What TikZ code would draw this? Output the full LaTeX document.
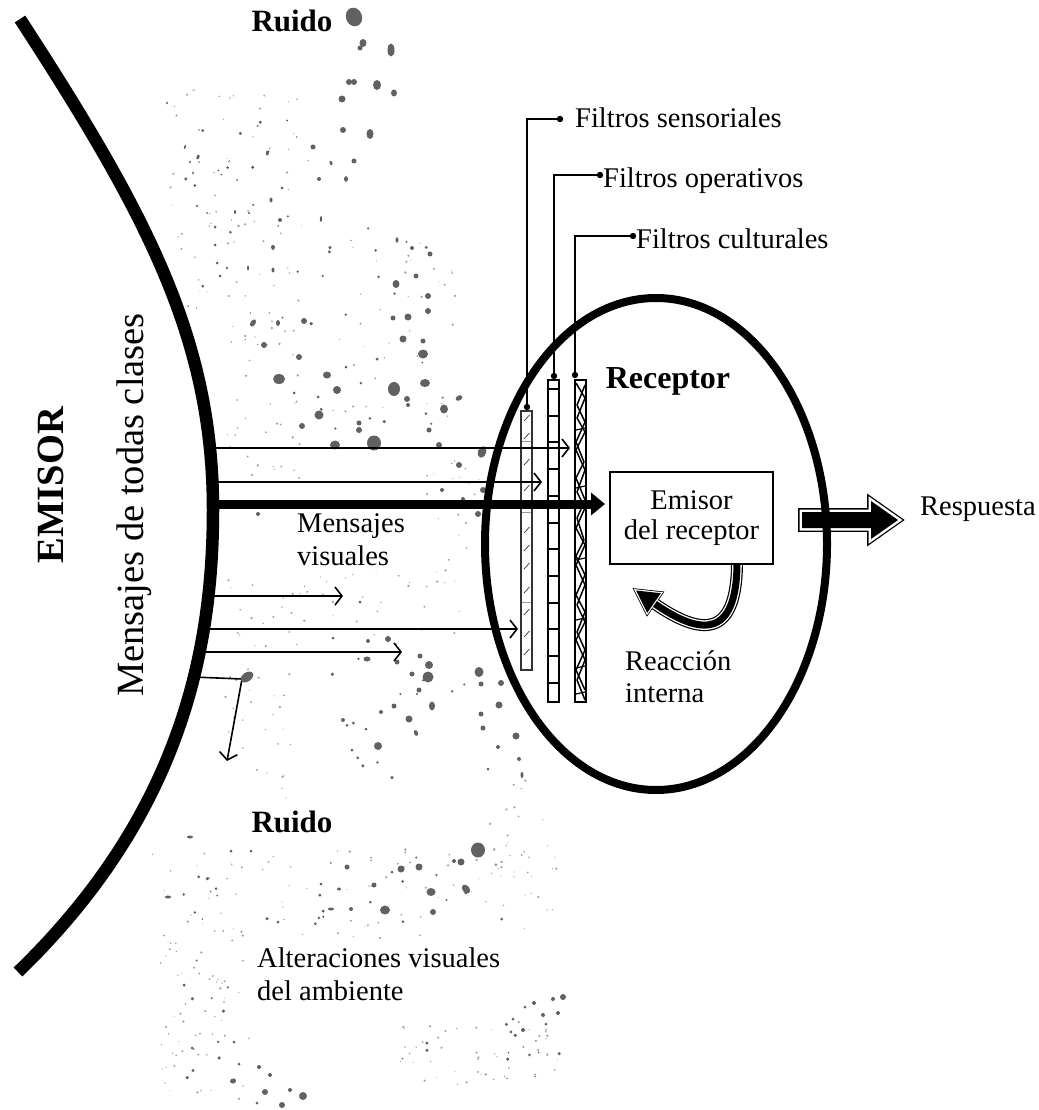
\documentclass[tikz,border=0pt]{standalone}
\usepackage{fontspec}
\setmainfont{Liberation Serif}
\usetikzlibrary{arrows.meta}
\begin{document}
\begin{tikzpicture}[x=1pt,y=-1pt,
  txt/.style={inner sep=0pt, font=\fontsize{28.5}{30}\selectfont},
  bigtxt/.style={inner sep=0pt, font=\fontsize{38.5}{40}\selectfont},
  boldtxt/.style={inner sep=0pt, font=\fontsize{31}{33}\selectfont\bfseries},
  noise/.style={fill=black!62},
  speck/.style={fill=black!38},
  emarc/.style={line width=12.5pt, line cap=butt},
  thinarrow/.style={line width=1.6pt, -{Straight Barb[length=7pt,width=18pt]}},
  mainarrow/.style={line width=9pt, -{Triangle[length=14pt,width=22pt]}},
  lead/.style={line width=2.8pt},
  leaddot/.style={fill=black},
  filterbox/.style={line width=2pt, fill=white},
]
\useasboundingbox (0,0) rectangle (1038,1110);

% ---------------- fine speckles (noise texture) ----------------
\pgfmathsetseed{4242}
\foreach \xa/\xb/\ya/\yb/\n in {170/310/90/330/70, 225/300/330/480/35, 225/300/570/800/45,
    300/460/570/640/30, 330/460/230/420/40, 150/560/845/940/80, 160/250/930/1100/60,
    400/560/1020/1085/50, 490/545/780/880/25, 420/480/460/560/20} {
  \foreach \i in {1,...,\n} {
    \pgfmathsetmacro\px{\xa+(\xb-\xa)*rnd}
    \pgfmathsetmacro\py{\ya+(\yb-\ya)*rnd}
    \pgfmathsetmacro\pr{0.5+0.8*rnd}
    \fill[speck] (\px,\py) circle[radius=\pr];
  }
}
\foreach \xa/\xb/\ya/\yb/\n in {180/300/120/320/18, 300/440/220/430/22, 330/470/640/780/14,
    170/540/850/930/22, 180/250/960/1100/12, 420/560/1000/1060/10} {
  \foreach \i in {1,...,\n} {
    \pgfmathsetmacro\px{\xa+(\xb-\xa)*rnd}
    \pgfmathsetmacro\py{\ya+(\yb-\ya)*rnd}
    \pgfmathsetmacro\pr{0.9+0.9*rnd}
    \fill[noise] (\px,\py) circle[radius=\pr];
  }
}

% ---------------- noise blobs ----------------
\foreach \x/\y/\a/\b/\r in {
  354/17/8/9.5/20, 363/43/3.5/4/0, 360/48/2.5/2.5/0, 391/50/3.5/6.5/0,
  349/82/3/3/0, 354/82/3/3/0, 377/85/4/5/0, 394/93/3/3.5/0, 342/99/3.5/3.5/0,
  343/130/3/3/0, 370/134/3.5/5/0, 313/147/2.5/2.5/0, 268/153/1/2.8/-20,
  354/161/2.5/2.5/0, 331/163/1.5/2.2/20, 346/179/2/2.8/0, 319/179/2/2/0,
  280/220/2/2/0, 321/219/1.2/2.8/0, 397/240/1.5/2.8/0, 412/248/2/2/0,
  430/254/2.5/2.5/0, 273/247/2/2/0, 416/276/2.5/2.5/0, 396/284/3.5/4/0,
  428/296/3/3/0, 408/317/3.5/3.5/0, 393/318/2.5/2.5/0, 428/311/3/3/0,
  304/321/3/3/0, 253/323/2.5/4/-35, 278/323/2/3/0, 264/345/3/3/0, 299/357/3/3/0,
  403/339/3.5/3.5/0, 423/341/2.5/2.5/0, 423/354/5/4.5/0, 279/379/6/5/0,
  327/375/4/3.5/0, 337/390/4/4/0, 394/389/6/7/0, 425/383/5/4/0, 407/399/3/3/0,
  408/405/2/2/0, 459/398/3.5/2.5/30, 444/409/4/4.5/0, 319/415/4.5/4.5/0,
  302/426/3/3/0, 359/423/2.5/2.5/0, 359/430/3/3/0, 429/430/2.5/2.5/0,
  335/445/5/4.5/0, 374/443/7/7.5/0, 439/445/3/3/0, 318/397/1.5/1.5/0,
  294/393/1.5/1.5/0, 482/452/4/6/-20, 459/465/3/3/0, 442/490/2/2/0,
  483/490/3/3/0, 463/499/2/2/0, 258/514/2/2/0, 478/514/3/3/0,
  360/602/1.5/1.5/0, 333/638/1.5/1.5/0, 368/641/2/2/0, 388/639/3/3/0,
  420/656/2.5/2.5/0, 367/659/3.5/2.5/0, 429/665/4/4/0, 479/672/4.5/5/0,
  397/662/2.5/2.5/0, 428/677/5.5/5.5/0, 412/674/2.5/2.5/0,
  419/690/2.5/2.5/0, 432/706/3/4.5/0, 394/706/2.5/2.5/0, 381/712/2/2/0,
  409/719/3.5/3.5/0, 343/720/2/2/0, 366/729/1.5/1.5/0, 416/733/2/3/20,
  378/746/4/4/0, 352/750/1.5/1.5/0, 481/684/2.5/2.5/0, 501/683/3/3/0,
  499/705/3.5/3.5/0, 481/714/2.5/2.5/0, 483/728/2.5/2.5/0, 516/736/3.5/3.5/0,
  498/747/2/2/0, 519/759/2/2/0, 488/769/1.5/1.5/0, 522/775/1.5/3/0,
  478/850/7/7.5/0, 461/862/3.5/3.5/0, 454/861/2/2/0, 419/867/3.5/3.5/0,
  401/869/3.5/3.5/0, 392/872/1.5/1.5/0, 347/867/2.5/2.5/0, 431/892/4.5/4/0,
  466/889/3.5/5/40, 374/885/2.5/2.5/0, 339/889/2/1.5/0, 321/884/1.5/1.5/0,
  385/910/5/4.5/0, 433/912/3/3/0, 351/909/2/2/0, 331/909/3/1.5/0,
  278/922/1.5/1.5/0, 231/851/1.5/1.5/0, 251/851/1.5/1.5/0, 168/897/3/1.5/0,
  190/837/3/1.5/0, 563/997/3/3/0, 558/1013/2/2/0, 543/1015/2/2/0,
  534/1003/2/2/0, 523/1030/2/2/0, 546/1024/1.5/1.5/0, 513/1019/1.5/1.5/0,
  525/1007/1.5/1.5/0, 553/999/2/2/0, 303/1096/4/4/0, 265/1092/3/3/0,
  282/1105/3/3/0, 290/1090/2/2/0, 233/1081/3/2.5/0, 259/1067/2/2/0,
  270/1075/2/2/0, 239/1064/1.5/1.5/0, 257/1103/1.5/1.5/0, 234/1042/1.5/1.5/0,
  198/157/1.5/2.5/-20, 185/147/1/2/-20, 267/153/1/2.5/0, 282/188/1.5/1.5/0,
  271/200/1.5/2.5/0, 235/212/1/2/0, 249/213/1/1.5/0, 215/227/1.5/1.5/0,
  207/213/1/1/0, 237/180/1/1/0, 193/173/1/1.5/0, 273/248/1.5/2/0,
  248/268/1/2.5/0, 273/270/1.5/2.5/0, 220/276/1.5/1.5/0, 167/103/1/1.5/0,
  190/162/1/1.5/0, 215/245/1.5/1.5/0, 217/263/1.5/1.5/0} {
  \fill[noise, rotate around={\r:(\x,\y)}] (\x,\y) ellipse[x radius=\a, y radius=\b];
}

% ---------------- Respuesta arrow (outlined block arrow) ----------------
\draw[line width=7.6pt, line join=miter] (802,512) -- (871,512) -- (871,501) -- (898,520) -- (871,539) -- (871,528) -- (802,528) -- cycle;
\draw[white, line width=5pt, line join=miter] (802,512) -- (871,512) -- (871,501) -- (898,520) -- (871,539) -- (871,528) -- (802,528) -- cycle;
\fill[black] (802,512) -- (871,512) -- (871,501) -- (898,520) -- (871,539) -- (871,528) -- (802,528) -- cycle;

% ---------------- Receptor ellipse ----------------
\node[draw=none, minimum width=342pt, minimum height=492pt, inner sep=0pt] (rec) at (656,544) {};
\draw[line width=8pt] (656,544) ellipse[x radius=171, y radius=246];

% ---------------- Filters ----------------
% filtro sensorial
\node[draw=black!80, line width=1.5pt, fill=white, minimum width=11pt, minimum height=259pt, inner sep=0pt] (f1) at (526.5,540.5) {};
\foreach \yy in {441,512,602} \draw[black!40, line width=1pt] (522,\yy) -- (531,\yy);
\foreach \yy in {418,436,462,488,530,548,566,590,612,634,652}
  \draw[black!70, line width=0.8pt] (524,\yy+3) -- (529.5,\yy-3);
% filtro operativo
\node[draw, filterbox, minimum width=11pt, minimum height=322pt, inner sep=0pt] (f2) at (553.5,541) {};
\foreach \k in {0,...,11} \draw[line width=2pt] (548,389+26.7*\k) -- (559,389+26.7*\k);
% filtro cultural
\node[draw, filterbox, minimum width=11pt, minimum height=322pt, inner sep=0pt] (f3) at (580.5,541) {};
\draw[line width=1.5pt, line join=round] (576,383) -- (585,398) -- (577,418) -- (585,432) -- (576,450) -- (585,470) -- (577,492) -- (585,508) -- (576,528) -- (585,545) -- (576,565) -- (585,585) -- (577,605) -- (585,622) -- (576,640) -- (585,660) -- (577,680) -- (585,700);
\draw[line width=1.5pt, line join=round] (585,385) -- (577,405) -- (585,422) -- (576,442) -- (584,462) -- (576,478) -- (585,500) -- (577,518) -- (584,540) -- (576,556) -- (585,575) -- (576,595) -- (585,612) -- (577,632) -- (585,650) -- (576,670) -- (585,690);
\foreach \yy in {430,488,560,620,668,694} \draw[line width=1.2pt] (576,\yy) -- (585,\yy-2);

% ---------------- leads ----------------
\coordinate (f1top) at (527,407);
\coordinate (f2top) at (554,376);
\coordinate (f3top) at (575,375);
\coordinate (l1) at (560,119);
\coordinate (l2) at (600,175);
\coordinate (l3) at (633,236);
\draw[lead] (f1top) |- (l1);
\draw[lead] (f2top) |- (l2);
\draw[lead] (f3top) |- (l3);
\foreach \c in {f1top,f2top,f3top,l1,l2,l3} \fill[leaddot] (\c) circle[radius=3.2];

% ---------------- message arrows ----------------
\coordinate (a1s) at (210,448); \coordinate (a1e) at (570,448);
\coordinate (a2s) at (212,482); \coordinate (a2e) at (542,482);
\coordinate (a3s) at (208,596); \coordinate (a3e) at (343,596);
\coordinate (a4s) at (203,629); \coordinate (a4e) at (518,629);
\coordinate (a5s) at (199,652); \coordinate (a5e) at (402,652);
\coordinate (ms) at (212,504);  \coordinate (me) at (605,504);
\foreach \s/\e in {a1s/a1e, a2s/a2e, a3s/a3e, a4s/a4e, a5s/a5e}
  \draw[thinarrow] (\s) -- (\e);
\draw[mainarrow] (ms) -- (me);
% deflected message
\coordinate (d0) at (193,677);
\coordinate (d1) at (242,679);
\coordinate (d2) at (227,761);
\draw[line width=1.6pt] (d0) -- (d1);
\draw[thinarrow] (d1) -- (d2);
\fill[noise, rotate around={35:(247,677)}] (247,677) ellipse[x radius=7, y radius=4.5];

% ---------------- Emisor arc ----------------
\draw[emarc] (20,19) .. controls (148,216) and (213,340) .. (213,510)
             .. controls (213,660) and (175,820) .. (18,972);

% ---------------- reaction arrow ----------------
\coordinate (rs) at (737,562);
\coordinate (re) at (655,604);
\draw[line width=4pt, line join=miter] (636,590.5) -- (660.8,593.2) -- (647.2,612.8) -- cycle;
\draw[line width=12pt] (rs) .. controls (737,640) and (700,635) .. (re);
\draw[white, line width=2.4pt, line join=miter] (636,590.5) -- (660.8,593.2) -- (647.2,612.8) -- cycle;
\draw[white, line width=9.6pt] (rs) .. controls (737,640) and (700,635) .. (re);
\fill[black] (636,590.5) -- (660.8,593.2) -- (647.2,612.8) -- cycle;
\draw[line width=7pt] (rs) .. controls (737,640) and (700,635) .. (re);

% ---------------- box ----------------
\node[draw, line width=1.5pt, fill=white, minimum width=163pt, minimum height=92pt, inner sep=0pt,
      align=center, font=\fontsize{28.5}{30}\selectfont] (box) at (691.5,518) {Emisor\\del receptor};

% ---------------- texts ----------------
\node[boldtxt, anchor=base] (ruido1) at (292,32) {Ruido};
\node[boldtxt, anchor=base] (ruido2) at (292,832) {Ruido};
\node[boldtxt, anchor=base, font=\fontsize{32}{34}\selectfont\bfseries] (recep) at (668,388) {Receptor};
\node[bigtxt, anchor=base, rotate=90, font=\fontsize{38.5}{40}\selectfont\bfseries] (emisor) at (63,485) {EMISOR};
\node[bigtxt, anchor=base, rotate=90] (mtc) at (143,505) {Mensajes de todas clases};
\node[txt, anchor=base west] (mv1) at (297,532) {Mensajes};
\node[txt, anchor=base west] (mv2) at (297,565) {visuales};
\node[txt, anchor=base west] (alt1) at (257,967) {Alteraciones visuales};
\node[txt, anchor=base west] (alt2) at (257,1000) {del ambiente};
\node[txt, anchor=base west] (resp) at (920,515) {Respuesta};
\node[txt, anchor=base west] (reac1) at (625,670) {Reacción};
\node[txt, anchor=base west] (reac2) at (625,702) {interna};
\node[txt, anchor=base west] (fs) at (575,128) {Filtros sensoriales};
\node[txt, anchor=base west] (fo) at (603,187) {Filtros operativos};
\node[txt, anchor=base west] (fc) at (636,248) {Filtros culturales};
\end{tikzpicture}
\end{document}
